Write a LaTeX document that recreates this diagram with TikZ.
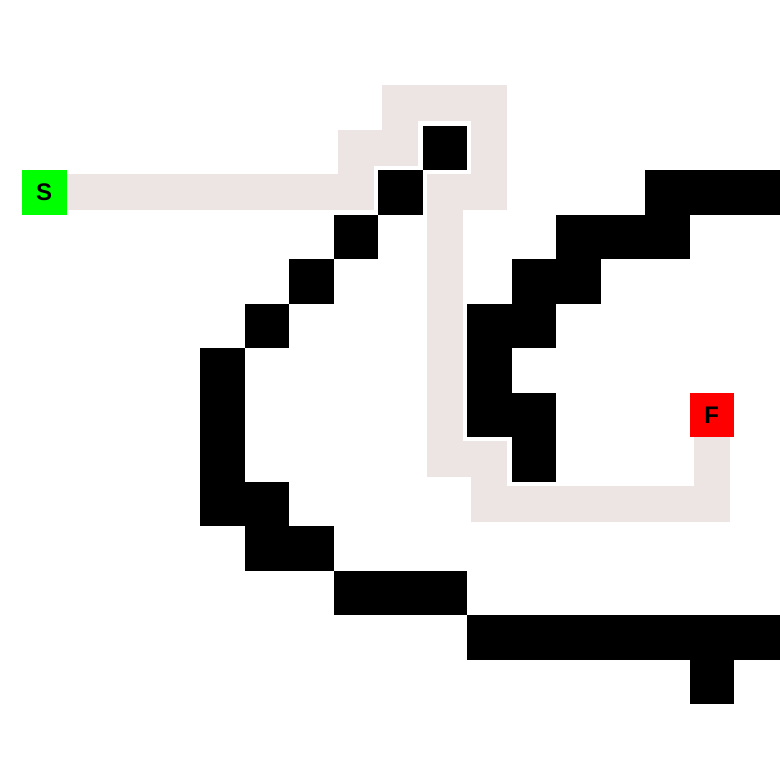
\documentclass[tikz,border=0pt]{standalone}
\usepackage{fontspec}
\setmainfont{Liberation Sans}
\begin{document}
\begin{tikzpicture}[x=44.5pt,y=-44.5pt,
  wall/.style={fill=black},
  route/.style={draw=pathc,line width=35.6pt,line join=miter},
  endpt/.style={minimum size=44.5pt,inner sep=0pt,outer sep=0pt,font=\fontsize{24}{24}\selectfont\bfseries}]
\definecolor{pathc}{RGB}{237,228,228}
\useasboundingbox[fill=white] (-0.4944,-0.8202) rectangle (17.0337,16.7079);
\foreach \c/\r in {9/2,8/3,7/4,6/5,5/6,4/7,4/8,4/9,4/10,5/10,5/11,6/11,7/12,8/12,9/12,
  10/13,11/13,12/13,13/13,14/13,15/13,16/13,17/13,15/14,
  14/3,15/3,16/3,17/3,12/4,13/4,14/4,11/5,12/5,10/6,11/6,10/7,10/8,11/8,11/9}
  \fill[wall] (\c,\r) rectangle ++(1,1);
\coordinate (s) at (0.5,3.5);
\coordinate (f) at (15.5,8.5);
\draw[route] (s) -- (7.5,3.5) -- (7.5,2.5) -- (8.5,2.5) -- (8.5,1.5) -- (10.5,1.5) -- (10.5,3.5) -- (9.5,3.5) -- (9.5,9.5) -- (10.5,9.5) -- (10.5,10.5) -- (15.5,10.5) -- (f);
\node[endpt,fill={rgb,255:red,0;green,255;blue,0}] (S) at (s) {S};
\node[endpt,fill=red] (F) at (f) {F};
\end{tikzpicture}
\end{document}
